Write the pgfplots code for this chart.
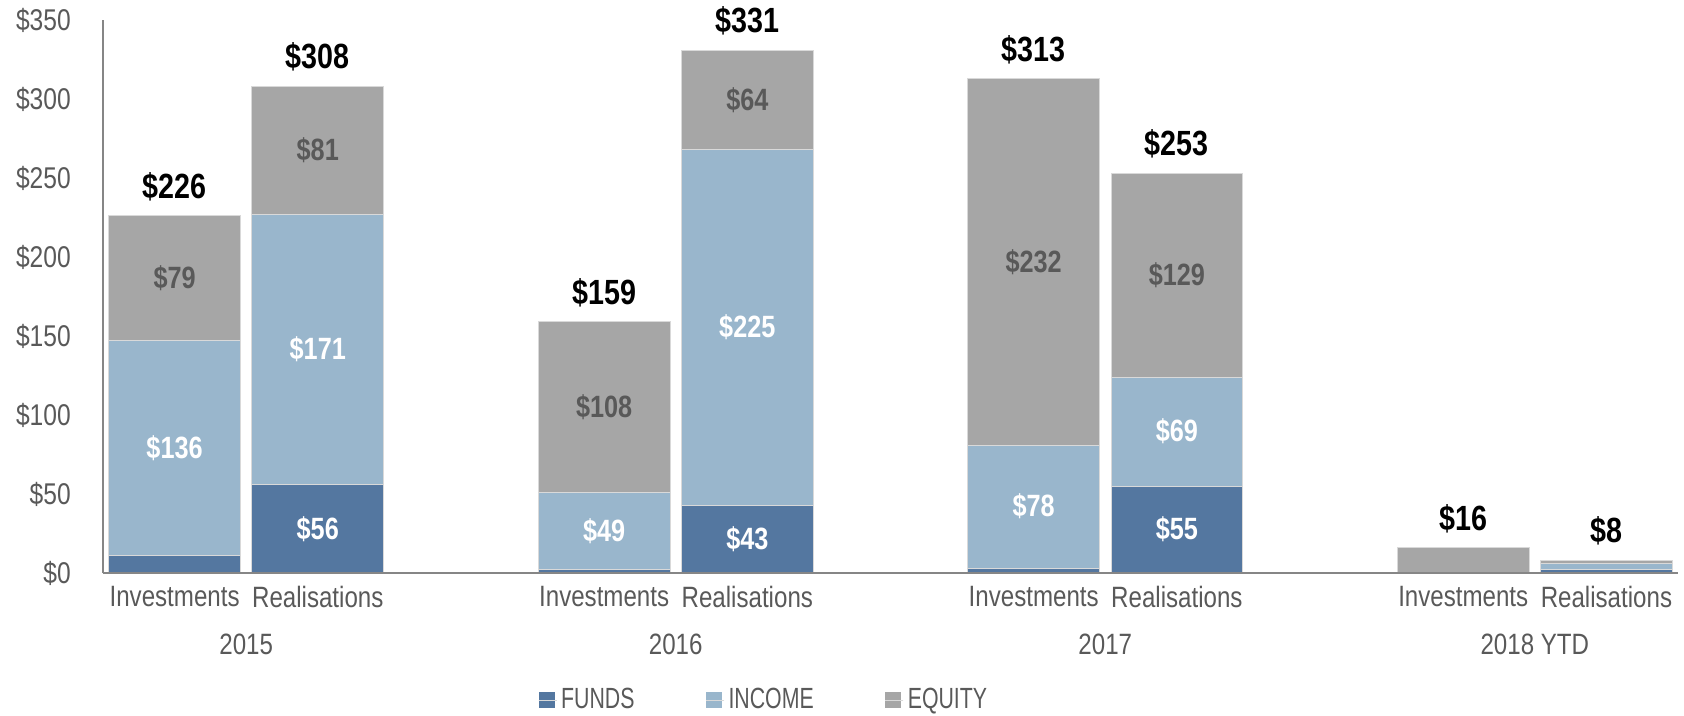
\documentclass[border=0pt]{standalone}
\usepackage{fontspec}
\setmainfont{Liberation Sans}[FakeStretch=0.82]
\newfontfamily\legfont{Liberation Sans}[FakeStretch=0.73]
\usepackage{pgfplots}
\pgfplotsset{compat=1.18}
\definecolor{funds}{RGB}{84,119,160}
\definecolor{income}{RGB}{153,182,204}
\definecolor{equity}{RGB}{166,166,166}
\definecolor{txtgray}{RGB}{89,89,89}
\definecolor{axgray}{RGB}{134,134,134}
\pgfplotsset{sqleg/.style={legend image code/.code={\fill[##1,draw=none] (0pt,-4pt) rectangle (8pt,4pt); \path (0pt,0pt) -- (9pt,0pt);}},
  frame/.style={scale only axis, width=787.5pt, height=276.5pt,
    xmin=-0.5, xmax=10.5, ymin=0, ymax=350, enlargelimits=false, clip=false}}

\begin{document}
\begin{tikzpicture}
\begin{axis}[name=ax, frame,
  ybar stacked, bar width=0.92,
  axis on top,
  axis x line*=bottom, axis y line*=left,
  axis line style={axgray, line width=1pt, -},
  major tick length=0pt,
  xtick={0,1,3,4,6,7,9,10},
  xticklabels={Investments,Realisations,Investments,Realisations,Investments,Realisations,Investments,Realisations},
  extra x ticks={0.5,3.5,6.5,9.5},
  extra x tick labels={2015,2016,2017,2018 YTD},
  extra x tick style={xticklabel style={yshift=-24pt}},
  ytick={0,50,...,350},
  /pgf/number format/assume math mode=true,
  yticklabel={\$\pgfmathprintnumber{\tick}},
  tick label style={text=txtgray},
  xticklabel style={font=\fontsize{14.7}{16}\selectfont, yshift=-3pt},
  yticklabel style={font=\fontsize{15}{17}\selectfont, xshift=-12.6pt},
  legend style={draw=none, fill=none, legend columns=-1, inner sep=0pt,
    at={(axis description cs:0.276,-0.230)}, anchor=west,
    font=\legfont\fontsize{14.6}{16}\selectfont, text=txtgray,
    /tikz/every even column/.append style={column sep=33.5pt}},
]
\addplot[fill=funds, draw=white!85!black, line width=0.5pt, sqleg]
  coordinates {(0,11) (1,56) (3,2) (4,43) (6,3) (7,55) (9,0) (10,2.5)};
\addlegendentry{FUNDS}
\addplot[fill=income, draw=white!85!black, line width=0.5pt, sqleg]
  coordinates {(0,136) (1,171) (3,49) (4,225) (6,78) (7,69) (9,0) (10,3.5)};
\addlegendentry{INCOME}
\addplot[fill=equity, draw=white!85!black, line width=0.5pt, sqleg]
  coordinates {(0,79) (1,81) (3,108) (4,63) (6,232) (7,129) (9,16) (10,2)};
\addlegendentry{EQUITY}
\end{axis}
% value labels: segment middles and bar totals
\begin{axis}[frame, at={(ax.south west)}, anchor=south west, hide axis,
  point meta=explicit symbolic, nodes near coords,
  every node near coord/.append style={anchor=center, font=\bfseries\fontsize{15.4}{17}\selectfont}]
\addplot[draw=none, mark=none, every node near coord/.append style={text=white}]
  coordinates {(1,28)[\$56] (4,21.5)[\$43] (7,27.5)[\$55]};
\addplot[draw=none, mark=none, every node near coord/.append style={text=white}]
  coordinates {(0,79)[\$136] (1,141.5)[\$171] (3,26.5)[\$49] (4,155.5)[\$225] (6,42)[\$78] (7,89.5)[\$69]};
\addplot[draw=none, mark=none, every node near coord/.append style={text=txtgray}]
  coordinates {(0,186.5)[\$79] (1,267.5)[\$81] (3,105)[\$108] (4,299.5)[\$64] (6,197)[\$232] (7,188.5)[\$129]};
\addplot[draw=none, mark=none, every node near coord/.append style={text=black, anchor=base, yshift=8.7pt,
    font=\bfseries\fontsize{17.5}{19}\selectfont}]
  coordinates {(0,226)[\$226] (1,308)[\$308] (3,159)[\$159] (4,331)[\$331] (6,313)[\$313] (7,253)[\$253] (9,16)[\$16] (10,8)[\$8]};
\end{axis}
\path (ax.south west) ++(-51.5pt,-70.65pt) rectangle ++(842pt,357pt);
\end{tikzpicture}
\end{document}
